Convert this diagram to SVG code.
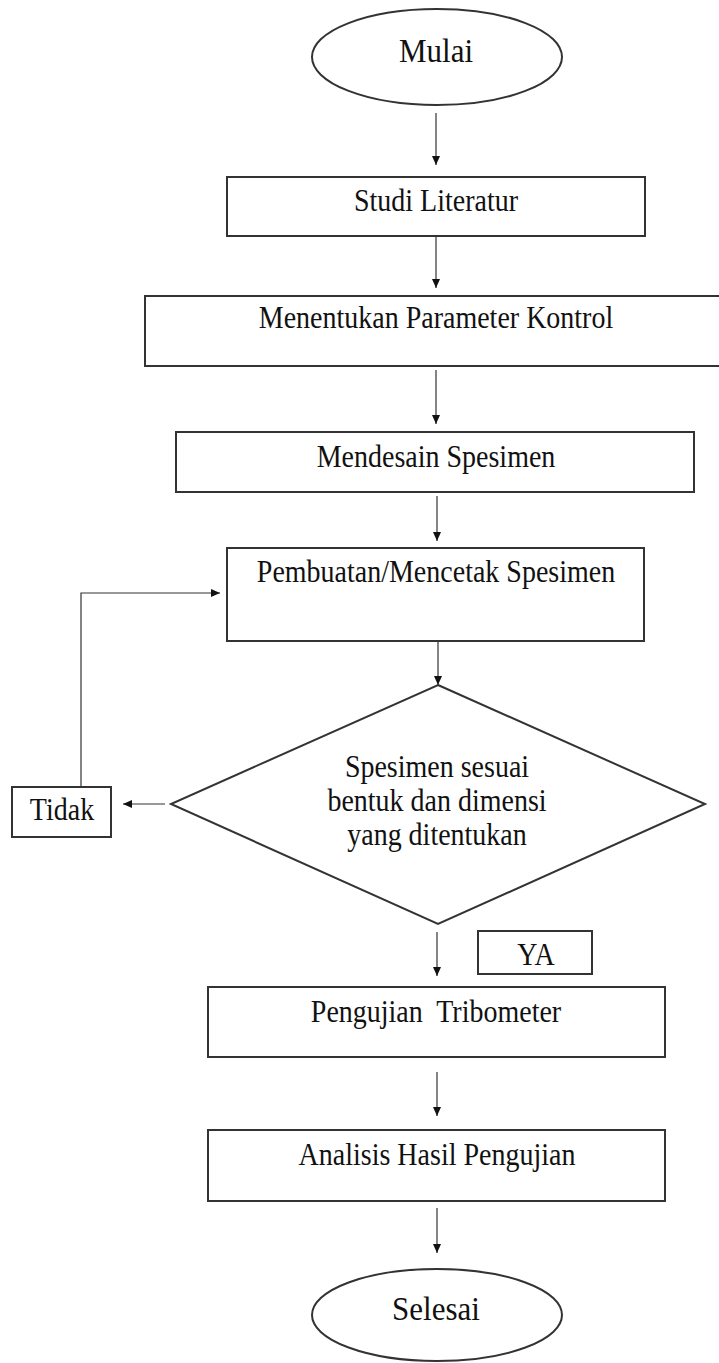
<svg xmlns="http://www.w3.org/2000/svg" width="719" height="1363" viewBox="0 0 719 1363">
<style>
.box{fill:#fff;stroke:#333;stroke-width:2}
.t{font-family:"Liberation Serif","Times New Roman",serif;font-size:28px;fill:#111;text-anchor:middle}
.big{font-size:31px}
.c{fill:none;stroke:#333;stroke-width:1.2}
</style>
<defs>
<marker id="ah" markerWidth="10" markerHeight="10" refX="9" refY="5" orient="auto" markerUnits="userSpaceOnUse">
<path d="M0,1 L9,5 L0,9 Z" fill="#111"/>
</marker>
</defs>
<rect width="719" height="1363" fill="#fff"/>
<g id="connectors">
<line class="c" x1="436" y1="113" x2="436" y2="165" marker-end="url(#ah)"/>
<line class="c" x1="436" y1="236" x2="436" y2="288" marker-end="url(#ah)"/>
<line class="c" x1="436" y1="370" x2="436" y2="424" marker-end="url(#ah)"/>
<line class="c" x1="437" y1="496" x2="437" y2="541" marker-end="url(#ah)"/>
<line class="c" x1="438" y1="641" x2="438" y2="685" marker-end="url(#ah)"/>
<line class="c" x1="165" y1="804" x2="123" y2="804" marker-end="url(#ah)"/>
<polyline class="c" points="81,787 81,593 220,593" marker-end="url(#ah)"/>
<line class="c" x1="437" y1="932" x2="437" y2="976" marker-end="url(#ah)"/>
<line class="c" x1="437" y1="1072" x2="437" y2="1116" marker-end="url(#ah)"/>
<line class="c" x1="437" y1="1208" x2="437" y2="1253" marker-end="url(#ah)"/>
</g>
<g id="mulai">
<ellipse class="box" cx="437" cy="57" rx="125" ry="48"/>
<text class="t big" transform="translate(436,62) scale(1,1.1)">Mulai</text>
</g>
<g id="studi">
<rect class="box" x="227" y="177" width="418" height="59"/>
<text class="t" transform="translate(436,211) scale(1,1.1)">Studi Literatur</text>
</g>
<g id="parameter">
<rect class="box" x="145" y="296" width="590" height="70"/>
<text class="t" transform="translate(436,328) scale(1,1.1)">Menentukan Parameter Kontrol</text>
</g>
<g id="mendesain">
<rect class="box" x="176" y="432" width="518" height="60"/>
<text class="t" transform="translate(436,467) scale(1,1.1)">Mendesain Spesimen</text>
</g>
<g id="pembuatan">
<rect class="box" x="227" y="548" width="417" height="93"/>
<text class="t" transform="translate(436,582) scale(1,1.1)">Pembuatan/Mencetak Spesimen</text>
</g>
<g id="keputusan">
<polygon class="box" points="438,685 705,804 438,924 171,804"/>
<text class="t" transform="translate(437,777) scale(1,1.1)">Spesimen sesuai</text>
<text class="t" transform="translate(437,811) scale(1,1.1)">bentuk dan dimensi</text>
<text class="t" transform="translate(437,845) scale(1,1.1)">yang ditentukan</text>
</g>
<g id="tidak">
<rect class="box" x="12" y="787" width="99" height="50"/>
<text class="t" transform="translate(62,820) scale(1,1.1)">Tidak</text>
</g>
<g id="ya">
<rect class="box" x="478" y="931" width="114" height="43"/>
<text class="t" transform="translate(536,965) scale(1,1.1)">YA</text>
</g>
<g id="pengujian">
<rect class="box" x="208" y="987" width="457" height="70"/>
<text class="t" transform="translate(436,1022) scale(1,1.1)" xml:space="preserve">Pengujian  Tribometer</text>
</g>
<g id="analisis">
<rect class="box" x="208" y="1130" width="457" height="71"/>
<text class="t" transform="translate(437,1165) scale(1,1.1)">Analisis Hasil Pengujian</text>
</g>
<g id="selesai">
<ellipse class="box" cx="437" cy="1315" rx="125" ry="46"/>
<text class="t big" transform="translate(436,1320) scale(1,1.1)">Selesai</text>
</g>
</svg>
